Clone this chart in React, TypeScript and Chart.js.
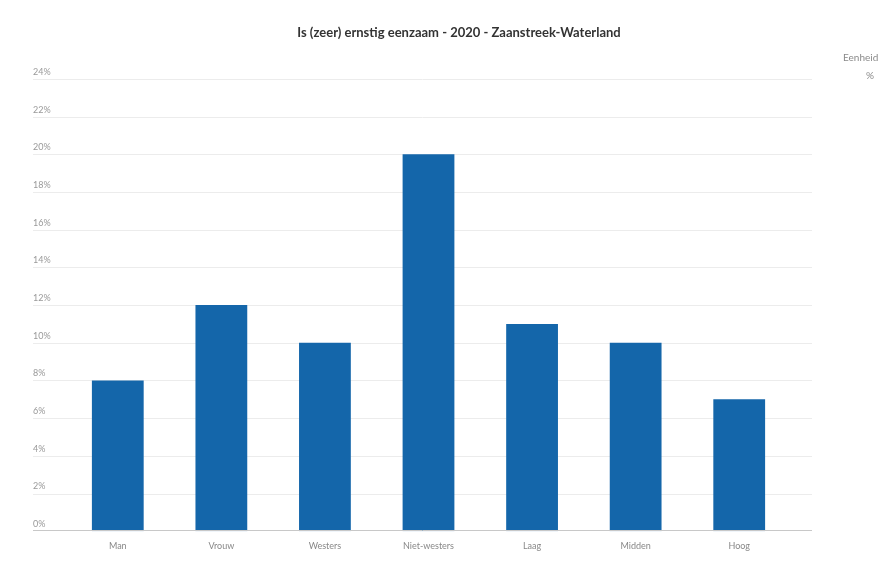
import React, { useEffect, useRef } from "react";
import { Chart, registerables } from "chart.js";

Chart.register(...registerables);

const categories = ["Man", "Vrouw", "Westers", "Niet-westers", "Laag", "Midden", "Hoog"];
const values = [8, 12, 10, 20, 11, 10, 7];
const titleText = "Is (zeer) ernstig eenzaam - 2020 - Zaanstreek-Waterland";
const unitLabel = "Eenheid";
const unitValue = "%";

const PLOT_LEFT = 33;
const PLOT_RIGHT = 812;

const textPlugin = {
  id: "textPlugin",
  beforeDatasetsDraw(chart: any) {
    const ctx = chart.ctx;
    const y = chart.scales.y;
    ctx.save();
    ctx.lineWidth = 1;
    ctx.strokeStyle = "#ececec";
    y.ticks.forEach((t: any) => {
      if (t.value === 0) return;
      const py = Math.round(y.getPixelForValue(t.value)) + 0.5;
      ctx.beginPath();
      ctx.moveTo(PLOT_LEFT, py);
      ctx.lineTo(PLOT_RIGHT, py);
      ctx.stroke();
    });
    ctx.fillStyle = "#999999";
    ctx.font = "9px Lato, 'Open Sans', sans-serif";
    ctx.textAlign = "left";
    ctx.textBaseline = "middle";
    y.ticks.forEach((t: any) => {
      const py = y.getPixelForValue(t.value);
      ctx.fillText(t.value + "%", PLOT_LEFT, py - 7);
    });
    ctx.restore();
  },
  afterDraw(chart: any) {
    const ctx = chart.ctx;
    const y = chart.scales.y;
    ctx.save();
    const py0 = Math.round(y.getPixelForValue(0)) - 0.5;
    ctx.strokeStyle = "#c8c8c8";
    ctx.lineWidth = 1;
    ctx.beginPath();
    ctx.moveTo(PLOT_LEFT, py0);
    ctx.lineTo(PLOT_RIGHT, py0);
    ctx.stroke();
    ctx.fillStyle = "#333333";
    ctx.font = "bold 13px Lato, 'Open Sans', sans-serif";
    ctx.textAlign = "center";
    ctx.textBaseline = "middle";
    ctx.fillText(titleText, 459, 33);
    ctx.fillStyle = "#8a8a8a";
    ctx.font = "10px Lato, 'Open Sans', sans-serif";
    ctx.textAlign = "left";
    ctx.fillText(unitLabel, 843, 58);
    ctx.fillText(unitValue, 866, 76);
    ctx.restore();
  },
};

export default function App() {
  const ref = useRef<HTMLCanvasElement>(null);
  useEffect(() => {
    const chart = new Chart(ref.current!, {
      type: "bar",
      data: {
        labels: categories,
        datasets: [
          {
            data: values,
            backgroundColor: "#1466aa",
            barPercentage: 1,
            categoryPercentage: 0.5,
          },
        ],
      },
      options: {
        animation: false,
        responsive: true,
        maintainAspectRatio: false,
        layout: { padding: { top: 79, left: 66, right: 99, bottom: 11 } },
        plugins: { legend: { display: false }, title: { display: false }, tooltip: { enabled: false } },
        scales: {
          x: {
            grid: { display: false },
            border: { display: false },
            ticks: { color: "#888888", font: { size: 9, family: "Lato, 'Open Sans', sans-serif" }, padding: 1 },
          },
          y: {
            min: 0,
            max: 24,
            ticks: { stepSize: 2, display: false },
            grid: { display: false, drawTicks: false },
            border: { display: false },
          },
        },
      },
      plugins: [textPlugin],
    });
    return () => chart.destroy();
  }, []);
  return (
    <div style={{ position: "fixed", left: 0, top: 0, width: 890, height: 563, background: "#fff" }}>
      <canvas ref={ref} />
    </div>
  );
}
